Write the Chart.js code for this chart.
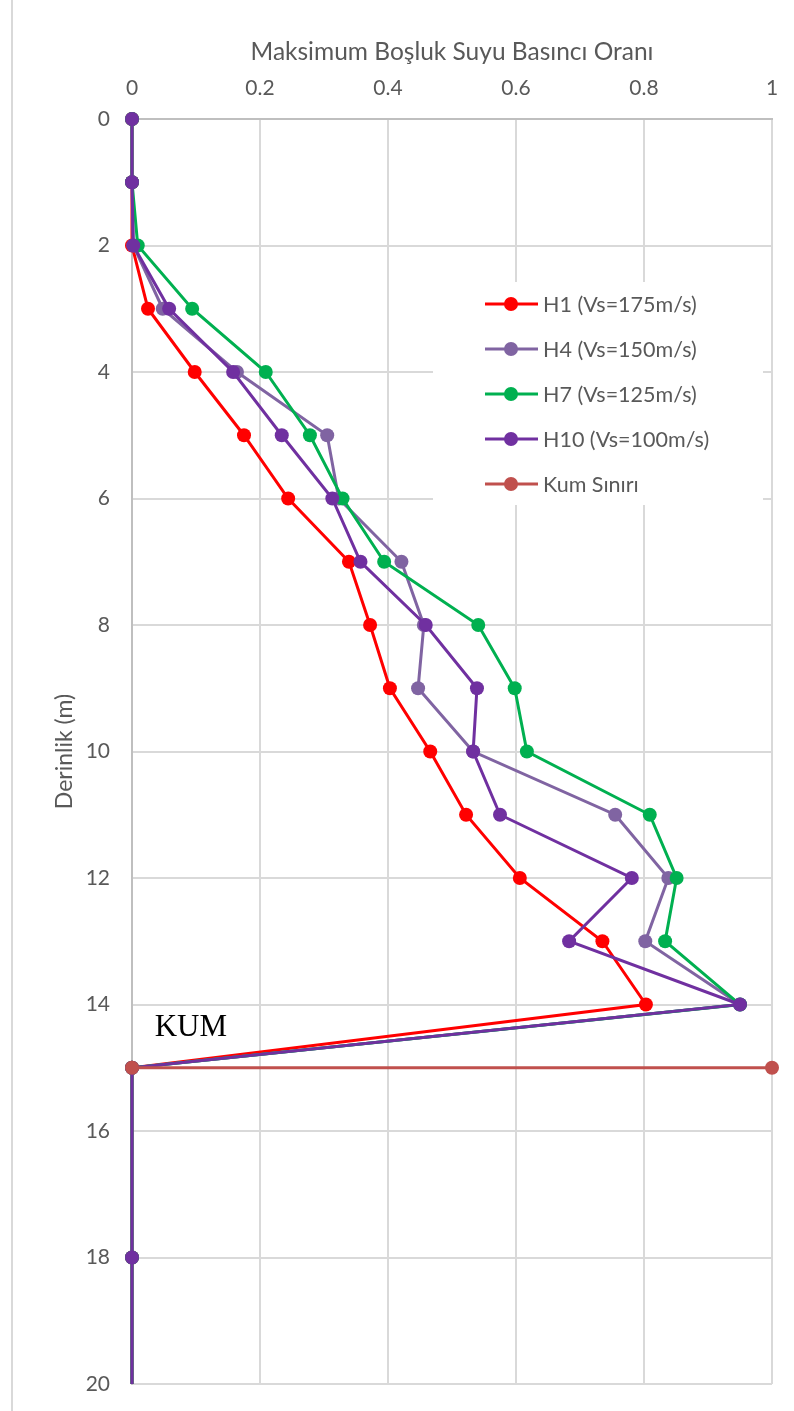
<!DOCTYPE html>
<html>
<head>
<meta charset="utf-8">
<script src="https://cdn.jsdelivr.net/npm/chart.js@4.4.0/dist/chart.umd.min.js"></script>
<style>
  html, body { margin: 0; padding: 0; background: #fff; }
  #wrap { position: relative; width: 794px; height: 1411px; }
  #edge { position: absolute; left: 11px; top: 0; width: 2px; height: 1411px; background: #d9d9d9; }
</style>
</head>
<body>
<div id="wrap">
  <div id="edge"></div>
  <canvas id="chart" width="794" height="1411"></canvas>
</div>
<script>
// depth (m) of each sample point
const depths = [0, 1, 2, 3, 4, 5, 6, 7, 8, 9, 10, 11, 12, 13, 14, 15, 18, 20];

// max pore pressure ratio per series
const h1 = [0, 0, 0, 0.025, 0.098, 0.175, 0.244, 0.339, 0.372, 0.403, 0.466, 0.522, 0.606, 0.735, 0.803, 0, 0, 0];
const h4 = [0, 0, 0.002, 0.048, 0.164, 0.305, 0.323, 0.421, 0.456, 0.447, 0.533, 0.755, 0.838, 0.802, 0.95, 0, 0, 0];
const h7 = [0, 0, 0.009, 0.094, 0.209, 0.278, 0.329, 0.394, 0.541, 0.598, 0.617, 0.809, 0.851, 0.833, 0.95, 0, 0, 0];
const h10 = [0, 0, 0.002, 0.058, 0.158, 0.234, 0.313, 0.357, 0.459, 0.539, 0.533, 0.575, 0.781, 0.683, 0.95, 0, 0, 0];

// sand boundary line
const kumX = [0, 1];
const kumY = [15, 15];

const seriesNames = ["H1 (Vs=175m/s)", "H4 (Vs=150m/s)", "H7 (Vs=125m/s)", "H10 (Vs=100m/s)", "Kum Sınırı"];
const seriesColors = ["#FF0000", "#8064A2", "#00B050", "#7030A0", "#C0504D"];

const xTicks = [0, 0.2, 0.4, 0.6, 0.8, 1];
const yTicks = [0, 2, 4, 6, 8, 10, 12, 14, 16, 18, 20];

const FONT = "Lato";
const TEXT = "#595959";

function toPoints(xs, ys) {
    return xs.map((v, i) => ({ x: v, y: ys[i] }));
}

// hide the marker on the last sample (line runs to the bottom of the plot)
function radiusNoLast(ctx) {
    return ctx.dataIndex === depths.length - 1 ? 0 : 7;
}

function makeSet(idx, points, order, radius) {
    return {
        label: seriesNames[idx],
        data: points,
        showLine: true,
        clip: false,
        borderColor: seriesColors[idx],
        backgroundColor: seriesColors[idx],
        borderWidth: 3,
        pointRadius: radius,
        pointHoverRadius: radius,
        pointBorderWidth: 0,
        tension: 0,
        order: order,
    };
}

// draws the legend box inside the plot and the KUM label
const overlay = {
    id: "overlay",
    afterDraw(chart) {
        const c = chart.ctx;
        const area = chart.chartArea;
        const xs = chart.scales.x;
        const ys = chart.scales.y;

        c.save();
        // legend
        const bx = area.left + 301, by = area.top + 163, bw = 330, bh = 223;
        c.fillStyle = "#fff";
        c.fillRect(bx, by, bw, bh);
        c.font = "21.5px " + FONT;
        c.textBaseline = "middle";
        c.textAlign = "left";
        seriesNames.forEach((name, i) => {
            const cy = by + 22 + i * 45;
            const lx = bx + 52;
            c.strokeStyle = seriesColors[i];
            c.lineWidth = 3;
            c.beginPath();
            c.moveTo(lx, cy);
            c.lineTo(lx + 53, cy);
            c.stroke();
            c.fillStyle = seriesColors[i];
            c.beginPath();
            c.arc(lx + 26, cy, 7, 0, Math.PI * 2);
            c.fill();
            c.fillStyle = TEXT;
            c.fillText(name, lx + 58, cy + 1);
        });

        // KUM annotation
        c.font = "31px 'Liberation Serif'";
        c.fillStyle = "#000";
        c.textAlign = "center";
        c.textBaseline = "alphabetic";
        c.fillText("KUM", xs.getPixelForValue(0.092), ys.getPixelForValue(14.5));
        c.restore();
    },
};

const ctx = document.getElementById("chart").getContext("2d");
new Chart(ctx, {
    type: "scatter",
    data: {
        datasets: [
            makeSet(0, toPoints(h1, depths), 4, radiusNoLast),
            makeSet(1, toPoints(h4, depths), 3, radiusNoLast),
            makeSet(2, toPoints(h7, depths), 2, radiusNoLast),
            makeSet(3, toPoints(h10, depths), 1, radiusNoLast),
            makeSet(4, toPoints(kumX, kumY), 0, 7),
        ],
    },
    options: {
        responsive: false,
        animation: false,
        layout: {
            padding: { left: 0, top: 0, right: 22, bottom: 27 },
        },
        plugins: {
            legend: { display: false },
            tooltip: { enabled: false },
        },
        scales: {
            x: {
                type: "linear",
                position: "top",
                min: 0,
                max: 1,
                afterBuildTicks: (axis) => {
                    axis.ticks = xTicks.map((v) => ({ value: v }));
                },
                afterFit: (axis) => {
                    axis.height = 119;
                    axis.paddingLeft = 0;
                    axis.paddingRight = 0;
                },
                ticks: {
                    color: TEXT,
                    font: { family: FONT, size: 21 },
                    padding: 18,
                    callback: (v) => String(v),
                },
                grid: { color: "#d9d9d9", lineWidth: 2, drawTicks: false },
                border: { color: "#bfbfbf", width: 2 },
                title: {
                    display: true,
                    text: "Maksimum Boşluk Suyu Basıncı Oranı",
                    color: TEXT,
                    font: { family: FONT, size: 24.5, weight: "normal" },
                    padding: { top: 37, bottom: 0 },
                },
            },
            y: {
                type: "linear",
                reverse: true,
                min: 0,
                max: 20,
                afterBuildTicks: (axis) => {
                    axis.ticks = yTicks.map((v) => ({ value: v }));
                },
                afterFit: (axis) => {
                    axis.width = 132;
                    axis.paddingTop = 0;
                    axis.paddingBottom = 0;
                },
                ticks: {
                    color: TEXT,
                    font: { family: FONT, size: 21 },
                    padding: 22,
                },
                grid: { color: "#d9d9d9", lineWidth: 2, drawTicks: false },
                border: { color: "#bfbfbf", width: 2 },
                title: {
                    display: true,
                    text: "Derinlik (m)",
                    color: TEXT,
                    font: { family: FONT, size: 23, weight: "normal" },
                    padding: { top: 51, bottom: 0 },
                },
            },
        },
    },
    plugins: [overlay],
});
</script>
</body>
</html>
